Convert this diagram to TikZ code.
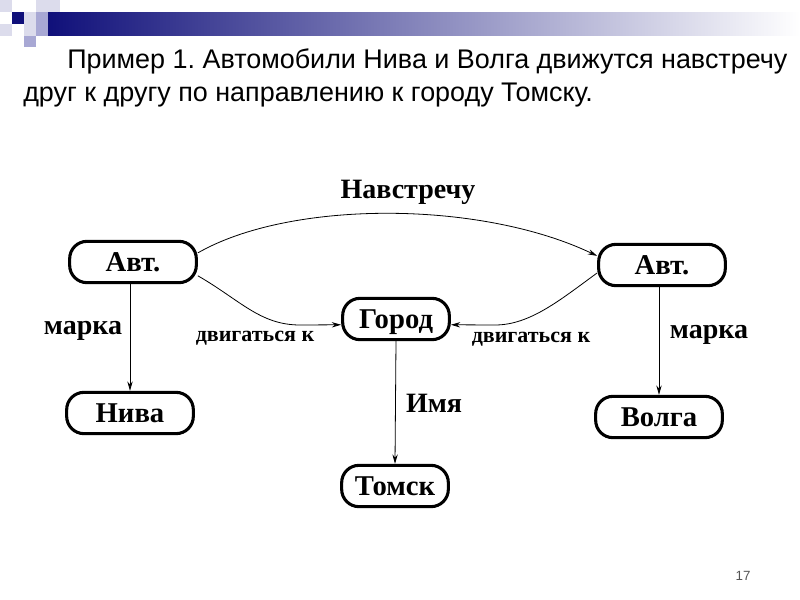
\documentclass[tikz,border=0pt]{standalone}
\usepackage{fontspec}
\setmainfont{Liberation Serif}
\newfontfamily\slidefont{Liberation Sans}
\usetikzlibrary{arrows.meta,positioning,calc}
\definecolor{navy}{HTML}{10107A}
\definecolor{sqlight}{HTML}{DCDCEC}
\definecolor{sqmid}{HTML}{A8A8D4}
\definecolor{pagegrey}{HTML}{555555}
\frenchspacing
\tikzset{
  pill/.style={draw, line width=2.3pt, rounded corners=13pt, minimum width=95pt,
               minimum height=31pt, inner sep=0pt, text height=13.5pt, text depth=0pt,
               font=\fontsize{21.5}{24}\selectfont\bfseries},
  link/.style={-{Stealth[length=7pt,width=4pt]}, line width=0.6pt},
  rel/.style={font=\fontsize{21}{24}\selectfont\bfseries},
  relsmall/.style={font=\fontsize{16.5}{18}\selectfont\bfseries},
  slidetext/.style={anchor=base west, inner sep=0pt, font=\slidefont\fontsize{20.2}{24}\selectfont},
}
\begin{document}
\begin{tikzpicture}[x=0.75pt,y=-0.75pt]
  \useasboundingbox (0,0) rectangle (800,600);
  % slide header
  \shade[left color=navy, right color=white] (48,12) rectangle (800,35);
  \fill[sqlight] (0,0) rectangle (12,12);
  \fill[sqlight] (36,0) rectangle (60,12);
  \fill[navy] (12,12) rectangle (24,24);
  \fill[sqlight] (24,12) rectangle (36,24);
  \fill[sqmid] (36,12) rectangle (48,24);
  \fill[sqlight] (0,24) rectangle (12,36);
  \fill[sqlight] (24,24) rectangle (36,36);
  \fill[sqmid] (36,24) rectangle (48,36);
  \fill[sqmid] (24,36) rectangle (36,47);
  \node[slidetext] (line1) at (67,68) {Пример 1. Автомобили Нива и Волга движутся навстречу};
  \node[slidetext] (line2) at (23,101) {друг к другу по направлению к городу Томску.};

  % nodes
  \node[pill] (avtL) at (133,262) {Авт.};
  \node[pill] (avtR) at (662,265) {Авт.};
  \node[pill, minimum width=80pt] (gorod) at (396,319) {Город};
  \node[pill] (niva) at (130,413) {Нива};
  \node[pill] (volga) at (659,417) {Волга};
  \node[pill, minimum width=80pt] (tomsk) at (395,486) {Томск};

  % connectors
  \draw[link] (avtL.8) .. controls (290,200) and (480,200) .. (avtR.172);
  \draw[link] (avtL.-12) .. controls (240,300) and (260,325) .. (300,325) -- (gorod.186);
  \draw[link] (avtR.187) .. controls (560,300) and (530,325) .. (495,325) -- (gorod.-6);
  \draw[link] (niva |- avtL.south) -- (niva.north);
  \draw[link] (volga |- avtR.south) -- (volga.north);
  \draw[link] (gorod.south) -- (tomsk.north);

  % labels
  \node[rel] (nav) at (408,192) {Навстречу};
  \node[rel] (markaL) at (83,331) {марка};
  \node[rel] (markaR) at (709,335) {марка};
  \node[rel] (imya) at (434,403) {Имя};
  \node[relsmall] (dvL) at (255,338) {двигаться к};
  \node[relsmall] (dvR) at (531,339) {двигаться к};

  \node[font=\slidefont\fontsize{10}{12}\selectfont, text=pagegrey] (page) at (743,576) {17};
\end{tikzpicture}
\end{document}
